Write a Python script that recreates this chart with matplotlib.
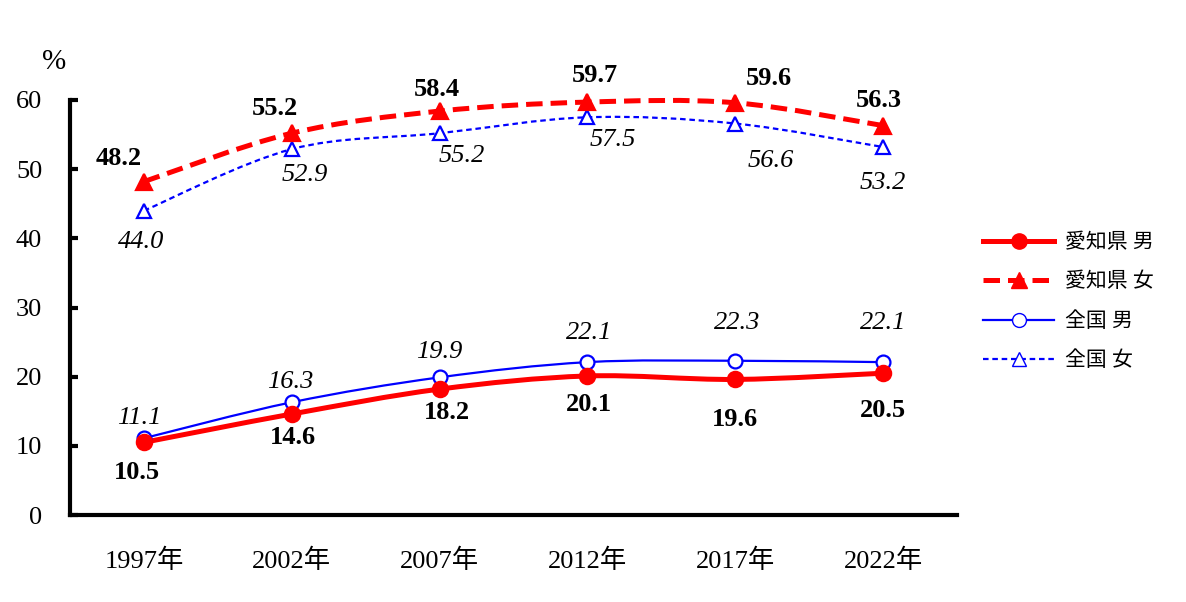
import matplotlib

matplotlib.use("Agg")

import matplotlib.pyplot as plt
import numpy as np
from matplotlib.lines import Line2D
from matplotlib.patches import PathPatch
from matplotlib.path import Path

plt.rcParams["font.family"] = ["Liberation Serif", "Noto Sans CJK JP"]

years = ["1997年", "2002年", "2007年", "2012年", "2017年", "2022年"]
aichi_male = [10.5, 14.6, 18.2, 20.1, 19.6, 20.5]
aichi_female = [48.2, 55.2, 58.4, 59.7, 59.6, 56.3]
japan_male = [11.1, 16.3, 19.9, 22.1, 22.3, 22.1]
japan_female = [44.0, 52.9, 55.2, 57.5, 56.6, 53.2]

RED = "#ff0000"
BLUE = "#0000ff"


def smooth_path(x, y):
    """Catmull-Rom style Bezier path through the points (like Excel's smoothed line)."""
    pts = np.column_stack([x, y]).astype(float)
    ext = np.vstack([pts[0], pts, pts[-1]])
    verts = [pts[0]]
    codes = [Path.MOVETO]
    for i in range(len(pts) - 1):
        p0, p1, p2, p3 = ext[i], ext[i + 1], ext[i + 2], ext[i + 3]
        verts += [p1 + (p2 - p0) / 6, p2 - (p3 - p1) / 6, p2]
        codes += [Path.CURVE4] * 3
    return Path(verts, codes)


fig = plt.figure(figsize=(11.86, 6.02), dpi=100)
ax = fig.add_axes([70 / 1186, 87 / 602, 887 / 1186, 415 / 602])
x = np.arange(len(years)) + 0.5

series = [
    # values, color, lw, dash, marker, marker face, marker size
    (japan_female, BLUE, 1.6, (0, (2.5, 1.7)), "^", "white", 10),
    (japan_male, BLUE, 1.6, "-", "o", "white", 10),
    (aichi_female, RED, 3.6, (0, (3.3, 1.6)), "^", RED, 11),
    (aichi_male, RED, 3.6, "-", "o", RED, 11),
]
for vals, col, lw, ls, mk, mfc, ms in series:
    ax.add_patch(PathPatch(smooth_path(x, vals), fill=False, edgecolor=col,
                           linewidth=lw, linestyle=ls, clip_on=False))
    ax.plot(x, vals, linestyle="none", marker=mk, markersize=ms,
            markerfacecolor=mfc, markeredgecolor=col,
            markeredgewidth=1.6, clip_on=False, zorder=5)

# label offsets in pixels
off_af = [(-25, 23), (-17, 25), (-3, 22), (7, 27), (34, 24), (-4, 25)]
off_jf = [(-3, -31), (13, -26), (22, -23), (25, -23), (36, -37), (0, -36)]
off_jm = [(-5, 20), (-2, 20), (0, 25), (2, 29), (2, 38), (0, 39)]
off_am = [(-7, -30), (1, -23), (7, -23), (2, -29), (0, -40), (0, -37)]

for vals, offs in [(aichi_female, off_af), (aichi_male, off_am)]:
    for xi, v, o in zip(x, vals, offs):
        ax.annotate(f"{v:.1f}", (xi, v), xytext=o, textcoords="offset pixels",
                    ha="center", va="center", fontsize=19, fontweight="bold")
for vals, offs in [(japan_female, off_jf), (japan_male, off_jm)]:
    for xi, v, o in zip(x, vals, offs):
        ax.annotate(f"{v:.1f}", (xi, v), xytext=o, textcoords="offset pixels",
                    ha="center", va="center", fontsize=19, fontstyle="italic")

ax.set_xlim(0, len(years))
ax.set_ylim(0, 60)
ax.set_yticks(range(0, 61, 10))
ax.set_xticks(x)
ax.set_xticklabels(years)
ax.tick_params(axis="y", direction="in", length=6, width=3, pad=20, labelsize=19)
ax.tick_params(axis="x", length=0, pad=24, labelsize=19)
for side in ["top", "right"]:
    ax.spines[side].set_visible(False)
for side in ["left", "bottom"]:
    ax.spines[side].set_linewidth(3)
fig.text(54 / 1186, 1 - 62 / 602, "%", fontsize=21, ha="center", va="center")

handles = [
    Line2D([], [], color=RED, lw=3.6, marker="o", markersize=11, label="愛知県 男"),
    Line2D([], [], color=RED, lw=3.6, ls=(0, (3.3, 1.6)), marker="^", markersize=11,
           label="愛知県 女"),
    Line2D([], [], color=BLUE, lw=1.6, marker="o", markersize=10, markerfacecolor="white",
           label="全国 男"),
    Line2D([], [], color=BLUE, lw=1.6, ls=(0, (2.5, 1.7)), marker="^", markersize=10,
           markerfacecolor="white", label="全国 女"),
]
leg = fig.legend(handles=handles, loc="upper left", bbox_to_anchor=(975 / 1186, 1 - 225 / 602),
                 frameon=False, fontsize=15, handlelength=3.4, labelspacing=0.95,
                 handletextpad=0.5, borderaxespad=0)
for t in leg.get_texts()[2:]:
    t.set_fontstyle("italic")

fig.savefig("out.png", dpi=100)
